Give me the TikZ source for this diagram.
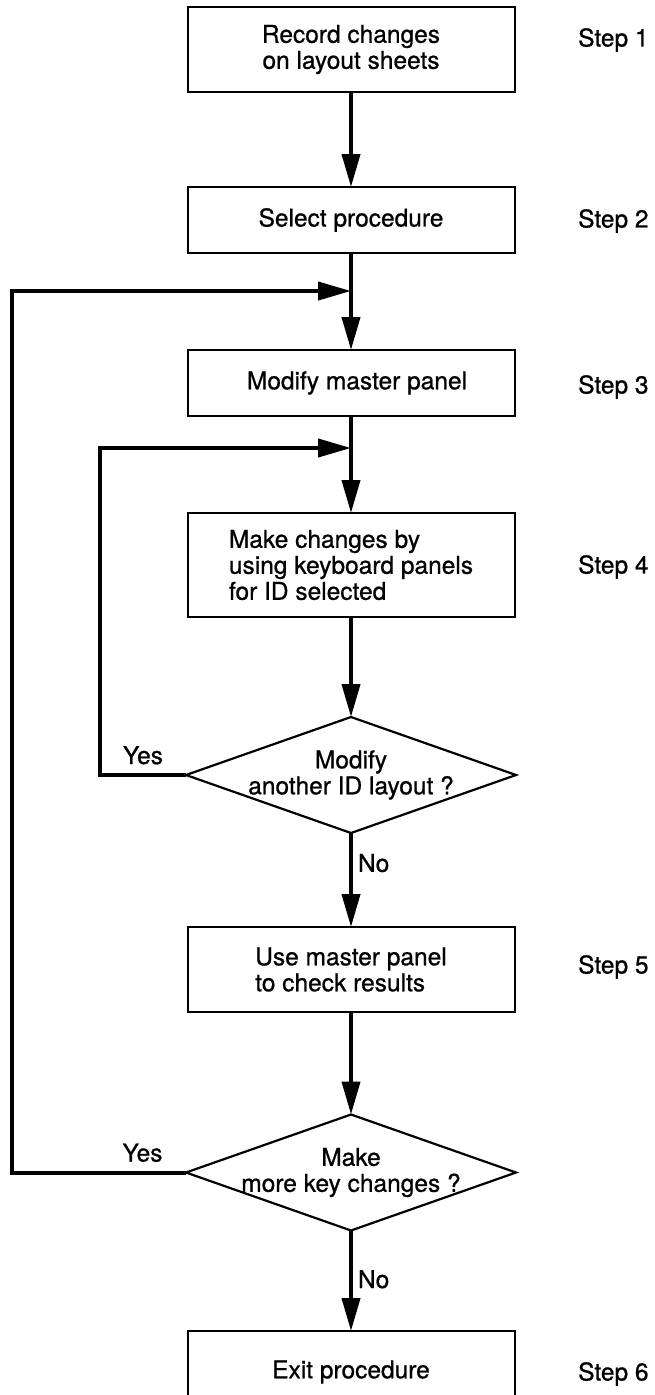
\documentclass[tikz,border=0pt]{standalone}
\usepackage{fontspec}
\setmainfont[FakeBold=0.8]{TeX Gyre Heros}
\usetikzlibrary{arrows.meta,shapes.geometric}
\begin{document}
\begin{tikzpicture}[x=1pt,y=-1pt,
  font=\fontsize{24.5}{26}\selectfont,
  box/.style={draw, line width=2pt, minimum width=327pt, inner sep=0pt, outer sep=0pt},
  dec/.style={draw, shape=diamond, line width=2.2pt, minimum width=330pt, minimum height=116pt, inner sep=0pt, outer sep=0pt},
  conn/.style={line width=4pt},
  arr/.style={conn, -{Triangle[length=33pt,width=18pt]}},
  steplabel/.style={anchor=west, inner sep=0pt},
  ans/.style={inner sep=0pt}]
\clip (0,0) rectangle (654,1395);
% boxes
\node[box, minimum height=85pt, align=center] (b1) at (351,49.5) {Record changes\\on layout sheets};
\node[box, minimum height=66pt] (b2) at (351,220) {Select procedure};
\node[box, minimum height=66pt] (b3) at (351,383) {\hspace*{12pt}Modify master panel};
\node[box, minimum height=104pt, align=left] (b4) at (351,565) {Make changes by\\using keyboard panels\\for ID selected};
\node[dec, label={[align=center, inner sep=0pt]center:Modify\\another ID layout ?}] (d1) at (351,775) {};
\node[box, minimum height=85pt, align=left] (b5) at (351,969.5) {Use master panel\\to check results};
\node[dec, label={[align=center, inner sep=0pt]center:Make\\more key changes ?}] (d2) at (351,1172.5) {};
\node[box, minimum height=82pt] (b6) at (351,1372) {Exit procedure};
% step labels
\node[steplabel] (s1) at (578,40) {Step 1};
\node[steplabel] (s2) at (578,221) {Step 2};
\node[steplabel] (s3) at (578,387) {Step 3};
\node[steplabel] (s4) at (578,567) {Step 4};
\node[steplabel] (s5) at (578,967) {Step 5};
\node[steplabel] (s6) at (578,1374) {Step 6};
% junctions and loop columns
\coordinate (j1) at (351,291);
\coordinate (j2) at (351,448);
\coordinate (L1) at (100,0);
\coordinate (L2) at (12,0);
% connectors
\draw[arr] (b1.south) -- (b2.north);
\draw[arr] (b2.south) -- (b3.north);
\draw[arr] (b3.south) -- (b4.north);
\draw[arr] (b4.south) -- (d1.north);
\draw[arr] (d1.south) -- node[pos=0.32, right, inner sep=5pt] (no1) {No} (b5.north);
\draw[arr] (b5.south) -- (d2.north);
\draw[arr] (d2.south) -- node[pos=0.485, right, inner sep=5pt] (no2) {No} (b6.north);
\draw[arr] (d1.west) -- node[midway, anchor=base, yshift=11pt] (yes1) {Yes} (d1.west -| L1) |- (j2);
\draw[arr] (d2.west) -- node[pos=0.25, anchor=base, yshift=11pt] (yes2) {Yes} (d2.west -| L2) |- (j1);
\end{tikzpicture}
\end{document}
